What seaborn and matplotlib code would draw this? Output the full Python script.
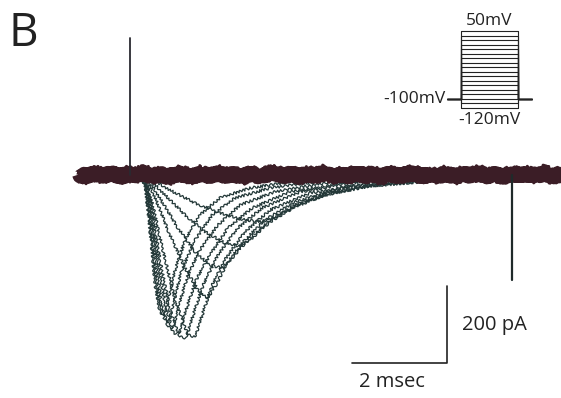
import numpy as np
import pandas as pd
import seaborn as sns
import matplotlib.pyplot as plt

# sodium current family, time in ms (0 = stimulus artifact), current in pA
sweep_t = [
    [0.21, 0.32, 0.42, 0.53, 0.63, 0.72, 0.80, 0.95, 1.16, 1.47, 1.89, 2.53, 3.37, 4.42],
    [0.23, 0.34, 0.46, 0.59, 0.72, 0.82, 0.93, 1.09, 1.37, 1.73, 2.21, 2.95, 4.00],
    [0.25, 0.36, 0.51, 0.65, 0.80, 0.91, 1.03, 1.22, 1.47, 1.85, 2.32, 3.05, 4.21],
    [0.27, 0.40, 0.57, 0.74, 0.91, 1.03, 1.18, 1.39, 1.68, 2.06, 2.57, 3.37, 4.63],
    [0.29, 0.44, 0.63, 0.84, 1.05, 1.18, 1.33, 1.54, 1.85, 2.27, 2.78, 3.58, 4.84],
    [0.32, 0.48, 0.69, 0.95, 1.22, 1.37, 1.52, 1.73, 2.02, 2.42, 2.95, 3.79, 5.05],
    [0.34, 0.55, 0.84, 1.16, 1.43, 1.64, 1.81, 2.06, 2.42, 2.84, 3.47, 4.42, 5.68],
    [0.36, 0.63, 1.01, 1.37, 1.68, 1.94, 2.15, 2.48, 2.91, 3.47, 4.21, 5.47],
    [0.38, 0.74, 1.16, 1.58, 2.00, 2.32, 2.57, 2.95, 3.47, 4.11, 5.05, 6.32],
    [0.42, 0.84, 1.37, 1.89, 2.42, 2.78, 3.12, 3.58, 4.21, 5.05, 6.32],
]
sweep_i = [
    [-3, -26, -143, -286, -356, -367, -325, -247, -169, -104, -60, -34, -18, -8],
    [-3, -34, -169, -312, -377, -382, -325, -247, -169, -104, -60, -34, -16],
    [-3, -39, -182, -325, -395, -398, -338, -260, -195, -130, -78, -44, -18],
    [-5, -52, -208, -338, -411, -413, -351, -273, -208, -138, -86, -44, -18],
    [-8, -65, -221, -351, -421, -424, -364, -286, -208, -138, -86, -44, -18],
    [-8, -78, -195, -325, -416, -421, -364, -286, -216, -148, -91, -47, -21],
    [-8, -65, -156, -242, -299, -320, -286, -226, -169, -117, -70, -34, -16],
    [-8, -60, -138, -200, -234, -242, -216, -169, -122, -78, -44, -21],
    [-8, -52, -104, -148, -177, -185, -164, -122, -83, -52, -29, -16],
    [-8, -39, -73, -99, -117, -122, -104, -75, -49, -29, -16],
]

# baseline holding current (noise)
baseline_noise = [3, -6, 8, -4, 10, -9, 5, -2, 12, -7, 4, -11, 7, 2, -8, 9, -5, 11, -3, 6,
                  -10, 8, -6, 3, 13, -4, 7, -9, 5, -2, 10, -8, 4, -6, 12, -3, 6, -10, 9, -5,
                  2, 11, -7, 5, -4, 8, -9, 6, -2, 10, -6, 4, -8, 9, -3, 7, -5, 11, -7, 3]
baseline_start, baseline_end = -1.08, 9.07

# artifacts
stim_artifact = (0.0, 356)
tail_artifact = (8.04, -273)

# voltage protocol for the inset (mV)
holding_mv = -100
step_levels = [-120, -110, -100, -90, -80, -70, -60, -50, -40, -30,
               -20, -10, 0, 10, 20, 30, 40, 50]

trace_color = "#233838"
band_color = "#3b1d26"

sns.set_style("white")
plt.rcParams['font.family'] = ['Open Sans', 'DejaVu Sans']

fig = plt.figure(figsize=(5.61, 3.98), dpi=100)
ax = fig.add_axes([0, 0, 1, 1])

rows = []
for k, (ts, cs) in enumerate(zip(sweep_t, sweep_i)):
    for t, c in zip(ts, cs):
        rows.append({"sweep": k, "t": t, "I": c})
df = pd.DataFrame(rows)
sns.lineplot(data=df, x="t", y="I", units="sweep", estimator=None,
             color=trace_color, lw=0.9, ax=ax, legend=False)
for ln in ax.get_lines():
    ln.set_sketch_params(1.3, 4.5, 2.5)

# baseline band: solid core plus ragged edges
bt = np.linspace(baseline_start, baseline_end, len(baseline_noise))
bn = np.array(baseline_noise)
core = ax.plot(bt, bn * 0.4, color=band_color, lw=9.5, solid_capstyle="butt")[0]
core.set_sketch_params(2.0, 2.5, 2.0)
for off in (11, -11):
    edge = ax.plot(bt, bn * 0.6 + off, color=band_color, lw=2.2, solid_capstyle="butt")[0]
    edge.set_sketch_params(3.5, 2.0, 2.0)

ax.plot([stim_artifact[0]] * 2, [0, stim_artifact[1]], color="#2a2a30", lw=1.3)
ax.plot([tail_artifact[0]] * 2, [0, tail_artifact[1]], color="#1f2a2a", lw=1.6)

# scale bars: 2 ms, 200 pA
ax.plot([4.67, 6.67, 6.67], [-489, -489, -289], color="#222222", lw=1.2)
ax.text(6.98, -390, "200 pA", fontsize=14.5, va="center", ha="left", color="#222222")
ax.text(5.52, -538, "2 msec", fontsize=14.5, va="center", ha="center", color="#222222")

ax.text(-2.55, 367, "B", fontsize=33, va="center", ha="left", color="#222222")

ax.set_xlim(-2.737, 9.074)
ax.set_ylim(-580, 455)
ax.axis("off")

# inset with voltage steps
ins = fig.add_axes([447 / 561, (398 - 108) / 398, 85 / 561, 77 / 398])
for lvl in step_levels:
    ins.plot([-0.25, 0, 0, 1, 1, 1.25],
             [holding_mv, holding_mv, lvl, lvl, holding_mv, holding_mv],
             color="#222222", lw=0.8, clip_on=False)
ins.set_xlim(-0.25, 1.25)
ins.set_ylim(-120, 50)
ins.axis("off")
ins.text(0.5, 55, "50mV", fontsize=12.5, ha="center", va="bottom", color="#222222")
ins.text(-0.28, holding_mv, "-100mV", fontsize=12.5, ha="right", va="center", color="#222222")
ins.text(0.5, -128, "-120mV", fontsize=12.5, ha="center", va="top", color="#222222")

fig.savefig("out.png", dpi=100)
